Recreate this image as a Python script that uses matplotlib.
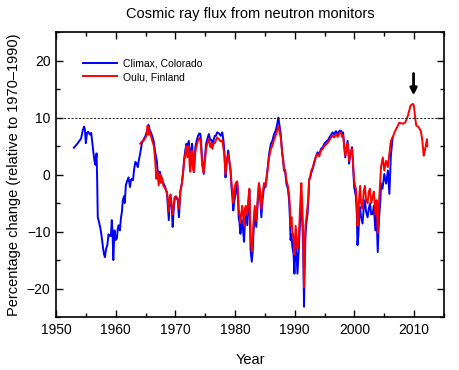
import matplotlib
matplotlib.use("Agg")
import matplotlib.pyplot as plt
from matplotlib.ticker import MultipleLocator

plt.rcParams['font.family'] = ['Liberation Sans', 'DejaVu Sans']

# Climax, Colorado
climax_year = [
    1953.0, 1953.5, 1954.0, 1954.2, 1954.5, 1954.7, 1954.85, 1955.0, 1955.2, 1955.4,
    1955.7, 1955.9, 1956.1, 1956.3, 1956.45, 1956.6, 1956.8, 1956.9, 1957.0, 1957.2,
    1957.45, 1957.6, 1957.9, 1958.05, 1958.2, 1958.4, 1958.6, 1958.8, 1958.95, 1959.2,
    1959.35, 1959.5, 1959.6, 1959.8, 1960.0, 1960.2, 1960.35, 1960.5, 1960.7, 1960.9,
    1961.05, 1961.2, 1961.4, 1961.5, 1961.6, 1961.7, 1961.9, 1962.15, 1962.4, 1962.55,
    1962.7, 1962.9, 1963.1, 1963.3, 1963.5, 1963.7, 1963.9, 1964.1, 1964.4, 1964.7,
    1965.0, 1965.2, 1965.35, 1965.5, 1965.7, 1965.9, 1966.1, 1966.4, 1966.6, 1966.9,
    1967.0, 1967.2, 1967.4, 1967.6, 1967.75, 1968.0, 1968.3, 1968.6, 1968.9, 1969.05,
    1969.2, 1969.4, 1969.55, 1969.7, 1969.9, 1970.1, 1970.4, 1970.6, 1970.85, 1971.1,
    1971.3, 1971.5, 1971.7, 1971.85, 1972.0, 1972.25, 1972.4, 1972.5, 1972.65, 1972.8,
    1972.95, 1973.1, 1973.35, 1973.55, 1973.8, 1974.0, 1974.2, 1974.35, 1974.5, 1974.75,
    1974.95, 1975.15, 1975.35, 1975.6, 1975.85, 1976.05, 1976.2, 1976.4, 1976.6, 1976.8,
    1977.0, 1977.3, 1977.6, 1977.85, 1978.05, 1978.2, 1978.4, 1978.6, 1978.85, 1979.1,
    1979.25, 1979.4, 1979.55, 1979.7, 1979.9, 1980.1, 1980.35, 1980.5, 1980.6, 1980.75,
    1980.9, 1981.05, 1981.2, 1981.35, 1981.5, 1981.65, 1981.8, 1982.05, 1982.25, 1982.4,
    1982.5, 1982.6, 1982.8, 1982.95, 1983.05, 1983.3, 1983.55, 1983.8, 1984.0, 1984.2,
    1984.4, 1984.6, 1984.85, 1985.1, 1985.3, 1985.5, 1985.7, 1986.0, 1986.25, 1986.5,
    1986.8, 1987.0, 1987.25, 1987.45, 1987.65, 1987.9, 1988.05, 1988.2, 1988.4, 1988.6,
    1988.85, 1989.05, 1989.2, 1989.3, 1989.45, 1989.6, 1989.8, 1989.95, 1990.15, 1990.3,
    1990.45, 1990.6, 1990.7, 1990.9, 1991.1, 1991.25, 1991.4, 1991.5, 1991.55, 1991.65,
    1991.8, 1992.0, 1992.15, 1992.3, 1992.4, 1992.6, 1992.8, 1993.0, 1993.25, 1993.5,
    1993.8, 1994.1, 1994.4, 1994.7, 1994.95, 1995.3, 1995.55, 1995.8, 1996.1, 1996.35,
    1996.6, 1996.9, 1997.2, 1997.45, 1997.75, 1997.9, 1998.1, 1998.3, 1998.45, 1998.65,
    1998.85, 1999.0, 1999.1, 1999.3, 1999.6, 1999.8, 1999.95, 2000.1, 2000.25, 2000.4,
    2000.5, 2000.65, 2000.8, 2000.95, 2001.1, 2001.35, 2001.55, 2001.75, 2001.95, 2002.2,
    2002.4, 2002.6, 2002.8, 2003.05, 2003.25, 2003.5, 2003.7, 2003.9, 2004.1, 2004.35,
    2004.45, 2004.7, 2005.0, 2005.3, 2005.6, 2005.85, 2006.1, 2006.4,
]
climax_pct = [
    4.7, 5.3, 6.0, 6.3, 7.8, 8.4, 7.9, 5.5, 7.3, 7.5,
    7.0, 7.3, 5.4, 3.6, 2.4, 1.7, 3.7, -1.0, -7.5, -8.3,
    -9.5, -10.5, -13.0, -14.0, -14.5, -13.0, -12.4, -10.5, -10.7, -10.8,
    -8.0, -11.0, -15.0, -9.8, -11.5, -11.2, -9.5, -8.9, -9.8, -7.5,
    -6.5, -4.5, -3.8, -5.0, -3.7, -1.9, -1.2, -0.5, -2.2, -1.0,
    -0.75, -1.0, 1.0, 2.2, 2.0, 1.3, 2.6, 3.7, 5.5, 6.2,
    6.8, 7.5, 8.0, 8.7, 7.8, 7.4, 6.8, 5.7, 4.0, 2.4,
    1.0, -0.5, 0.5, -0.5, -1.0, -1.5, -2.2, -3.4, -8.0, -4.5,
    -4.0, -6.0, -9.2, -6.5, -4.0, -4.0, -4.5, -7.5, -2.8, -1.5,
    0.4, 3.0, 4.5, 5.4, 4.8, 5.9, 4.0, 1.3, 4.0, 5.4,
    3.0, 0.4, 4.8, 5.9, 6.8, 7.2, 7.1, 5.0, 2.4, 0.1,
    3.0, 5.4, 6.2, 7.1, 6.0, 6.1, 5.4, 6.0, 6.8, 6.8,
    7.4, 7.2, 6.8, 7.4, 6.0, 4.2, -0.5, 2.0, 4.2, 1.9,
    0.5, -2.2, -4.0, -6.3, -4.5, -3.4, -1.3, -4.0, -7.5, -8.5,
    -10.4, -9.0, -8.0, -10.0, -11.8, -8.5, -6.9, -8.9, -5.0, -2.8,
    -8.0, -13.3, -15.3, -13.5, -11.0, -6.3, -9.2, -5.0, -1.6, -4.0,
    -7.5, -4.5, -2.2, -2.2, -0.5, 1.5, 3.6, 5.4, 5.9, 7.0,
    7.7, 8.5, 10.0, 8.5, 7.1, 3.6, 2.5, 0.7, 0.5, -1.6,
    -2.5, -4.5, -8.0, -11.5, -10.5, -12.7, -14.0, -17.4, -11.0, -14.0,
    -17.4, -14.5, -12.7, -8.0, -4.5, -8.0, -12.1, -20.0, -23.2, -17.0,
    -10.4, -8.0, -6.9, -4.0, -1.0, -0.5, 0.4, 1.0, 1.9, 3.0,
    3.9, 3.5, 4.5, 4.8, 5.4, 5.8, 6.0, 6.5, 7.0, 7.4,
    7.0, 7.6, 7.1, 7.6, 7.7, 7.0, 7.4, 5.0, 3.0, 4.5,
    5.9, 4.0, 1.9, 3.5, 4.8, 1.0, -2.2, -3.0, -4.0, -7.0,
    -12.4, -10.7, -7.0, -5.7, -7.5, -8.6, -6.0, -4.5, -6.5, -7.5,
    -6.0, -5.1, -7.0, -6.9, -5.5, -9.8, -7.0, -13.6, -8.0, -4.5,
    -1.6, -2.5, 0.1, -1.6, 0.7, -3.4, 3.3, 6.5,
]

# Oulu, Finland
oulu_year = [
    1964.1, 1964.4, 1964.7, 1965.0, 1965.2, 1965.35, 1965.5, 1965.7, 1965.9, 1966.1,
    1966.4, 1966.6, 1966.8, 1967.0, 1967.2, 1967.4, 1967.6, 1967.75, 1968.0, 1968.3,
    1968.6, 1968.9, 1969.05, 1969.2, 1969.4, 1969.55, 1969.7, 1969.9, 1970.1, 1970.4,
    1970.6, 1970.85, 1971.1, 1971.3, 1971.5, 1971.7, 1971.85, 1972.0, 1972.25, 1972.4,
    1972.5, 1972.65, 1972.8, 1972.95, 1973.1, 1973.35, 1973.55, 1973.8, 1974.0, 1974.2,
    1974.35, 1974.5, 1974.75, 1974.95, 1975.15, 1975.35, 1975.6, 1975.85, 1976.05, 1976.2,
    1976.4, 1976.6, 1976.8, 1977.0, 1977.3, 1977.6, 1977.85, 1978.05, 1978.2, 1978.4,
    1978.6, 1978.85, 1979.1, 1979.25, 1979.4, 1979.55, 1979.7, 1979.9, 1980.1, 1980.35,
    1980.5, 1980.6, 1980.75, 1980.9, 1981.05, 1981.2, 1981.35, 1981.5, 1981.65, 1981.8,
    1982.05, 1982.25, 1982.4, 1982.5, 1982.6, 1982.8, 1982.95, 1983.05, 1983.3, 1983.55,
    1983.8, 1984.0, 1984.2, 1984.4, 1984.6, 1984.85, 1985.1, 1985.3, 1985.5, 1985.7,
    1986.0, 1986.25, 1986.5, 1986.8, 1987.0, 1987.25, 1987.45, 1987.65, 1987.9, 1988.05,
    1988.2, 1988.4, 1988.6, 1988.85, 1989.05, 1989.2, 1989.3, 1989.45, 1989.6, 1989.8,
    1989.95, 1990.15, 1990.3, 1990.45, 1990.6, 1990.7, 1990.9, 1991.1, 1991.25, 1991.4,
    1991.5, 1991.55, 1991.65, 1991.8, 1992.0, 1992.15, 1992.3, 1992.4, 1992.6, 1992.8,
    1993.0, 1993.25, 1993.5, 1993.8, 1994.1, 1994.4, 1994.7, 1994.95, 1995.3, 1995.55,
    1995.8, 1996.1, 1996.35, 1996.6, 1996.9, 1997.2, 1997.45, 1997.75, 1997.9, 1998.1,
    1998.3, 1998.45, 1998.65, 1998.85, 1999.0, 1999.1, 1999.3, 1999.6, 1999.8, 1999.95,
    2000.1, 2000.25, 2000.4, 2000.5, 2000.65, 2000.8, 2000.95, 2001.1, 2001.35, 2001.55,
    2001.75, 2001.95, 2002.2, 2002.4, 2002.6, 2002.8, 2003.05, 2003.25, 2003.5, 2003.7,
    2003.9, 2004.1, 2004.2, 2004.45, 2004.75, 2005.0, 2005.3, 2005.6, 2005.85, 2006.1,
    2006.4, 2006.7, 2007.15, 2007.5, 2008.1, 2008.5, 2008.95, 2009.4, 2009.8, 2009.95,
    2010.2, 2010.35, 2010.75, 2011.1, 2011.35, 2011.6, 2011.8, 2012.05, 2012.15, 2012.2,
]
oulu_pct = [
    5.4, 5.8, 6.0, 6.5, 6.9, 8.6, 7.0, 7.5, 6.8, 6.0,
    5.0, 2.7, -0.75, 0.5, -1.9, 0.0, -1.5, -0.5, -2.0, -2.5,
    -3.0, -6.5, -4.0, -3.5, -5.5, -7.0, -5.5, -4.0, -3.8, -4.2,
    -6.0, -3.0, -1.5, 0.5, 2.5, 3.8, 5.0, 3.0, 5.0, 1.5,
    0.5, 4.0, 4.2, 1.0, 0.5, 4.0, 5.0, 6.0, 6.4, 6.0,
    4.0, 1.5, 0.3, 2.5, 4.5, 5.5, 6.2, 4.8, 5.5, 4.5,
    5.5, 5.5, 6.0, 6.5, 6.2, 5.8, 6.0, 4.5, 3.5, 0.0,
    2.5, 3.5, 2.0, 1.0, -1.5, -3.0, -5.0, -2.5, -1.5, -1.2,
    -3.0, -6.0, -7.0, -8.5, -7.0, -5.5, -7.0, -9.0, -6.0, -5.5,
    -7.0, -4.0, -2.5, -6.5, -11.0, -13.5, -11.5, -9.0, -5.5, -8.0,
    -4.0, -1.5, -3.0, -6.0, -3.5, -1.5, -2.0, -0.3, 1.2, 3.0,
    4.5, 5.0, 6.0, 6.8, 7.5, 8.5, 7.5, 6.5, 3.8, 2.8,
    1.0, 0.8, -1.0, -2.0, -3.5, -6.0, -9.0, -7.5, -10.0, -11.0,
    -14.0, -9.0, -11.0, -13.0, -12.0, -10.5, -5.5, -1.5, -5.0, -10.0,
    -17.0, -19.8, -15.0, -9.0, -7.0, -5.5, -3.5, -1.0, -0.2, 0.8,
    1.2, 2.2, 3.0, 3.6, 3.2, 4.2, 4.5, 5.0, 5.3, 5.6,
    6.0, 6.5, 6.8, 6.5, 7.0, 6.6, 7.2, 7.4, 6.6, 6.9,
    4.8, 3.3, 4.5, 5.5, 4.0, 2.5, 3.8, 4.5, 1.5, -1.0,
    -2.0, -2.5, -5.0, -9.0, -7.0, -4.0, -2.0, -5.0, -6.0, -3.0,
    -2.0, -4.5, -5.0, -3.0, -2.5, -5.0, -4.0, -3.0, -7.0, -4.5,
    -10.3, -5.0, -3.4, 1.3, 3.0, 0.7, 2.4, 1.3, 3.6, 5.9,
    6.5, 7.4, 8.3, 9.1, 8.9, 9.1, 10.3, 12.1, 12.4, 12.1,
    9.7, 8.6, 8.3, 7.7, 6.2, 3.3, 4.2, 5.6, 6.2, 5.0,
]

fig = plt.figure(figsize=(4.6, 3.7), dpi=100)
ax = fig.add_axes([0.1217, 0.1432, 0.8435, 0.7703])

ax.plot(climax_year, climax_pct, color='#0000ff', lw=1.4, label='Climax, Colorado')
ax.plot(oulu_year, oulu_pct, color='#ff0000', lw=1.4, label='Oulu, Finland')
ax.axhline(10, color='black', lw=0.6, ls=(0, (2.5, 2)))

# arrow over the 2009 maximum
ax.annotate('', xy=(2009.9, 13.4), xytext=(2009.9, 18.2),
            arrowprops=dict(arrowstyle='-|>', color='black', lw=2, mutation_scale=10))

ax.set_xlim(1950, 2015)
ax.set_ylim(-25, 25)
ax.xaxis.set_major_locator(MultipleLocator(10))
ax.xaxis.set_minor_locator(MultipleLocator(5))
ax.yaxis.set_major_locator(MultipleLocator(10))
ax.yaxis.set_minor_locator(MultipleLocator(5))
ax.tick_params(which='both', direction='in', top=True, right=True, labelsize=10, width=1)
ax.tick_params(which='major', length=5, pad=4)
ax.tick_params(which='minor', length=3)
for s in ax.spines.values():
    s.set_linewidth(1.2)

ax.set_xlabel('Year', fontsize=10.5, labelpad=12)
ax.set_ylabel('Percentage change (relative to 1970\u20131990)', fontsize=10.5, labelpad=4)
ax.set_title('Cosmic ray flux from neutron monitors', fontsize=10.5, pad=10)

ax.legend(loc='upper left', frameon=False, fontsize=7.5, handlelength=3.3,
          handletextpad=0.6, labelspacing=0.35, bbox_to_anchor=(0.045, 0.94))

fig.savefig('out.png', dpi=100)
